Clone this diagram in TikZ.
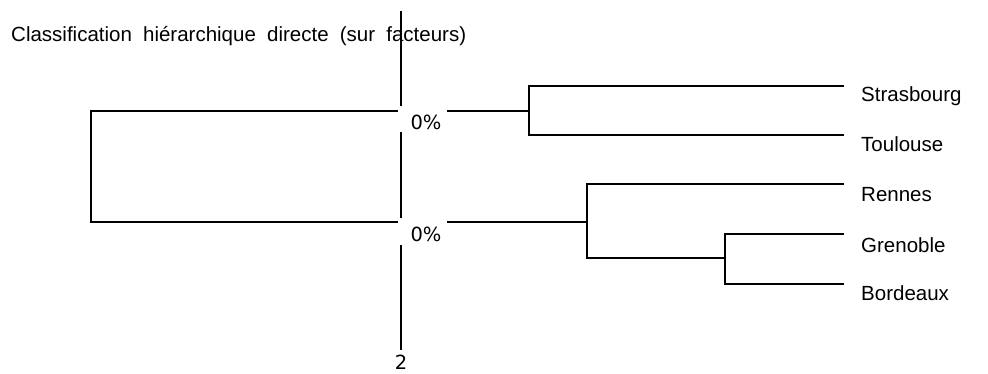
\documentclass[tikz,border=0pt]{standalone}
\usepackage{fontspec}
\setmainfont{Liberation Sans}
\newfontfamily\pctfont{DejaVu Sans}
\begin{document}
\begin{tikzpicture}[x=1pt,y=-1pt,
  tree/.style={line width=2pt, line cap=rect, black},
  axis/.style={line width=2pt, black},
  leaf/.style={anchor=base west, inner sep=0pt, font=\fontsize{20.5}{24}\selectfont},
  pct/.style={anchor=base, inner sep=0pt, font=\pctfont\fontsize{19.5}{23}\selectfont},
  ttl/.style={anchor=base west, inner sep=0pt, font=\fontsize{20.5}{24}\selectfont}]
\useasboundingbox (0,0) rectangle (988,374);
\fill[white] (0,0) rectangle (988,374);
% title
\node[ttl] (title) at (11,42) {\makebox[455pt][s]{Classification hiérarchique directe (sur facteurs)}};
% axis
\coordinate (axT) at (401,11);
\coordinate (g1t) at (401,106);
\coordinate (g1b) at (401,132);
\coordinate (g2t) at (401,218);
\coordinate (g2b) at (401,245);
\coordinate (axB) at (401,350);
\draw[axis] (axT) -- (g1t);
\draw[axis] (g1b) -- (g2t);
\draw[axis] (g2b) -- (axB);
\node[pct] (p1) at (426,130) {0\%};
\node[pct] (p2) at (426,242) {0\%};
\node[pct] (two) at (401,369.5) {2};
% left cluster
\coordinate (h1L) at (397,111);
\coordinate (h2L) at (397,222);
\coordinate (L1) at (91,111);
\coordinate (L2) at (91,222);
\draw[tree] (h1L) -- (L1) -- (L2) -- (h2L);
% upper right cluster
\coordinate (h1R) at (448,111);
\coordinate (J1) at (529,111);
\coordinate (J1a) at (529,86);
\coordinate (J1b) at (529,135);
\coordinate (sE) at (843,86);
\coordinate (tE) at (843,135);
\draw[tree] (h1R) -- (J1);
\draw[tree] (sE) -- (J1a) -- (J1b) -- (tE);
% lower right cluster
\coordinate (h2R) at (448,222);
\coordinate (J2) at (587,222);
\coordinate (J2a) at (587,184);
\coordinate (J2b) at (587,258);
\coordinate (J3) at (725,258);
\coordinate (J3a) at (725,234);
\coordinate (J3b) at (725,284);
\coordinate (rE) at (843,184);
\coordinate (gE) at (843,234);
\coordinate (bE) at (843,284);
\draw[tree] (h2R) -- (J2);
\draw[tree] (rE) -- (J2a) -- (J2b) -- (J3);
\draw[tree] (gE) -- (J3a) -- (J3b) -- (bE);
% leaves
\node[leaf] (s) at (861,102) {Strasbourg};
\node[leaf] (t) at (861,152) {Toulouse};
\node[leaf] (r) at (861,202) {Rennes};
\node[leaf] (g) at (861,252) {Grenoble};
\node[leaf] (b) at (861,300) {Bordeaux};
\end{tikzpicture}
\end{document}
